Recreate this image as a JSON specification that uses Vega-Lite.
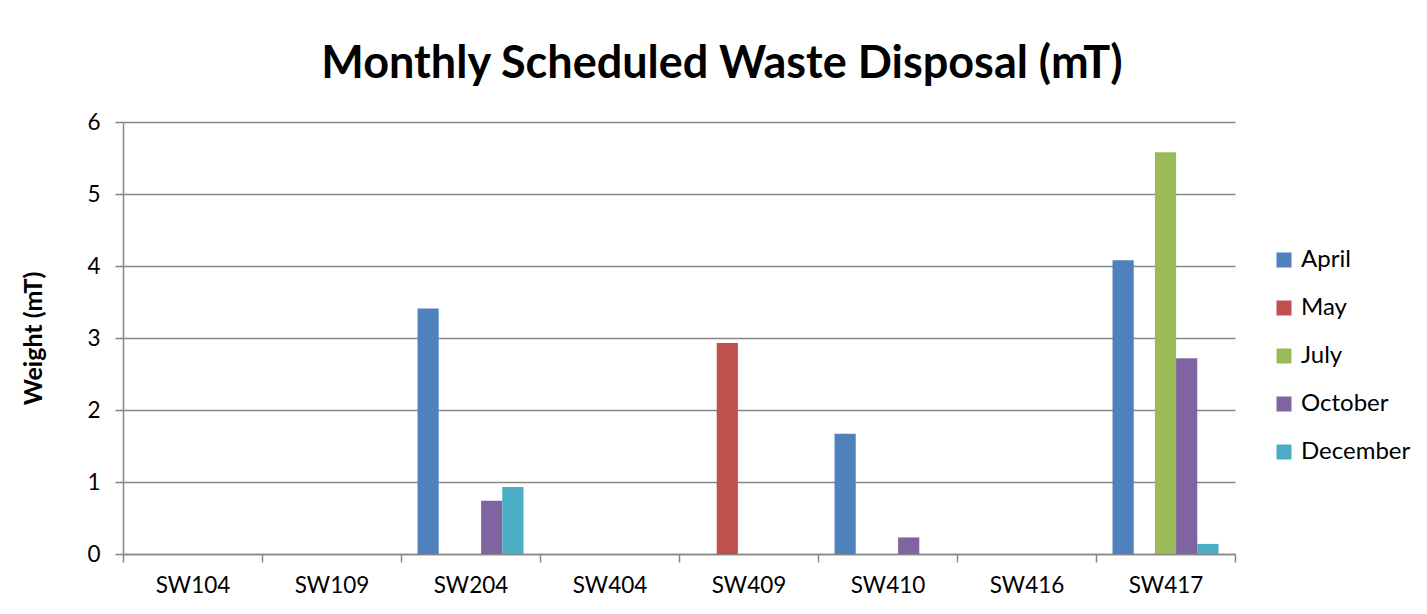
{
  "$schema": "https://vega.github.io/schema/vega-lite/v6.json",
  "width": 1112,
  "height": 432,
  "autosize": {"type": "none"},
  "padding": {"left": 123, "top": 122, "right": 193, "bottom": 60},
  "background": "white",
  "title": {
    "text": "Monthly Scheduled Waste Disposal (mT)",
    "font": "Lato",
    "fontSize": 45,
    "fontWeight": "bold",
    "color": "#000000",
    "anchor": "middle",
    "dx": 43,
    "offset": 24
  },
  "data": {
    "values": [
      {"site": "SW104", "month": "April", "weight": 0},
      {"site": "SW104", "month": "May", "weight": 0},
      {"site": "SW104", "month": "July", "weight": 0},
      {"site": "SW104", "month": "October", "weight": 0},
      {"site": "SW104", "month": "December", "weight": 0},
      {"site": "SW109", "month": "April", "weight": 0},
      {"site": "SW109", "month": "May", "weight": 0},
      {"site": "SW109", "month": "July", "weight": 0},
      {"site": "SW109", "month": "October", "weight": 0},
      {"site": "SW109", "month": "December", "weight": 0},
      {"site": "SW204", "month": "April", "weight": 3.41},
      {"site": "SW204", "month": "May", "weight": 0},
      {"site": "SW204", "month": "July", "weight": 0},
      {"site": "SW204", "month": "October", "weight": 0.74},
      {"site": "SW204", "month": "December", "weight": 0.93},
      {"site": "SW404", "month": "April", "weight": 0},
      {"site": "SW404", "month": "May", "weight": 0},
      {"site": "SW404", "month": "July", "weight": 0},
      {"site": "SW404", "month": "October", "weight": 0},
      {"site": "SW404", "month": "December", "weight": 0},
      {"site": "SW409", "month": "April", "weight": 0},
      {"site": "SW409", "month": "May", "weight": 2.93},
      {"site": "SW409", "month": "July", "weight": 0},
      {"site": "SW409", "month": "October", "weight": 0},
      {"site": "SW409", "month": "December", "weight": 0},
      {"site": "SW410", "month": "April", "weight": 1.67},
      {"site": "SW410", "month": "May", "weight": 0},
      {"site": "SW410", "month": "July", "weight": 0},
      {"site": "SW410", "month": "October", "weight": 0.23},
      {"site": "SW410", "month": "December", "weight": 0},
      {"site": "SW416", "month": "April", "weight": 0},
      {"site": "SW416", "month": "May", "weight": 0},
      {"site": "SW416", "month": "July", "weight": 0},
      {"site": "SW416", "month": "October", "weight": 0},
      {"site": "SW416", "month": "December", "weight": 0},
      {"site": "SW417", "month": "April", "weight": 4.08},
      {"site": "SW417", "month": "May", "weight": 0},
      {"site": "SW417", "month": "July", "weight": 5.58},
      {"site": "SW417", "month": "October", "weight": 2.72},
      {"site": "SW417", "month": "December", "weight": 0.14}
    ]
  },
  "mark": {"type": "bar", "strokeWidth": 0},
  "encoding": {
    "x": {
      "field": "site",
      "type": "nominal",
      "sort": null,
      "scale": {"paddingInner": 0, "paddingOuter": 0},
      "axis": {
        "title": null,
        "labelAngle": 0,
        "labelFont": "Lato",
        "labelFontSize": 22.5,
        "labelColor": "#000000",
        "labelPadding": 12,
        "tickBand": "extent",
        "tickSize": 8,
        "tickColor": "#868686",
        "tickWidth": 1.5,
        "domainColor": "#868686",
        "domainWidth": 1.5,
        "grid": false
      }
    },
    "xOffset": {
      "field": "month",
      "type": "nominal",
      "sort": ["April", "May", "July", "October", "December"],
      "scale": {"paddingInner": 0, "paddingOuter": 0.78}
    },
    "y": {
      "field": "weight",
      "type": "quantitative",
      "scale": {"domain": [0, 6], "nice": false},
      "axis": {
        "title": "Weight (mT)",
        "titleFont": "Lato",
        "titleFontSize": 25,
        "titleFontWeight": "bold",
        "titleColor": "#000000",
        "titlePadding": 40,
        "values": [0, 1, 2, 3, 4, 5, 6],
        "labelFont": "Lato",
        "labelFontSize": 22.5,
        "labelColor": "#000000",
        "labelPadding": 15,
        "tickSize": 8,
        "tickColor": "#868686",
        "tickWidth": 1.5,
        "domainColor": "#868686",
        "domainWidth": 1.5,
        "grid": true,
        "gridColor": "#868686",
        "gridWidth": 1.5
      }
    },
    "color": {
      "field": "month",
      "type": "nominal",
      "sort": ["April", "May", "July", "October", "December"],
      "scale": {
        "domain": ["April", "May", "July", "October", "December"],
        "range": ["#4F81BD", "#C0504D", "#9BBB59", "#8064A2", "#4BACC6"]
      },
      "legend": {
        "title": null,
        "orient": "none",
        "legendX": 1149,
        "legendY": 126,
        "symbolType": "square",
        "symbolSize": 225,
        "symbolStrokeWidth": 0,
        "labelFont": "Lato",
        "labelFontSize": 24,
        "labelColor": "#000000",
        "labelOffset": 5,
        "rowPadding": 24
      }
    }
  },
  "config": {
    "view": {"stroke": null}
  }
}
